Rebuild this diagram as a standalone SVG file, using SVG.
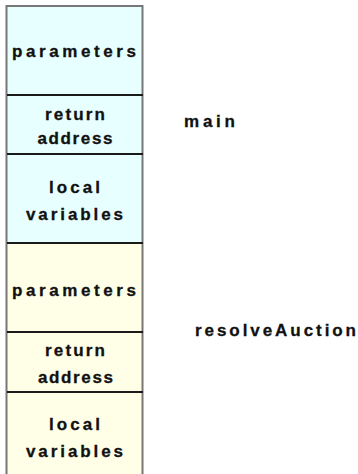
<svg xmlns="http://www.w3.org/2000/svg" width="358" height="474" viewBox="0 0 358 474">
<style>
.c{fill:#E8FFFF}
.y{fill:#FFFFE8}
.div{stroke:#1a1a1a;stroke-width:2}
.edge{stroke:#777;stroke-width:2;fill:none}
text{font-family:"Liberation Sans",Arial,sans-serif;font-weight:bold;font-size:17px;fill:#111;text-anchor:middle;stroke:#111;stroke-width:0.3}
</style>
<rect width="358" height="474" fill="#fff"/>
<g id="main-parameters">
<rect class="c" x="7" y="6.5" width="136" height="88.5"/>
<text x="74" y="57" textLength="124" lengthAdjust="spacing">parameters</text>
</g>
<g id="main-return-address">
<rect class="c" x="7" y="95" width="136" height="59"/>
<text x="75" y="120" textLength="60" lengthAdjust="spacing">return</text>
<text x="75" y="144" textLength="75" lengthAdjust="spacing">address</text>
</g>
<g id="main-local-variables">
<rect class="c" x="7" y="154" width="136" height="89"/>
<text x="74.5" y="193" textLength="51" lengthAdjust="spacing">local</text>
<text x="74.5" y="219.5" textLength="97" lengthAdjust="spacing">variables</text>
</g>
<g id="ra-parameters">
<rect class="y" x="7" y="243" width="136" height="89"/>
<text x="74" y="296" textLength="124" lengthAdjust="spacing">parameters</text>
</g>
<g id="ra-return-address">
<rect class="y" x="7" y="332" width="136" height="60"/>
<text x="75" y="356" textLength="60" lengthAdjust="spacing">return</text>
<text x="75.5" y="383" textLength="75" lengthAdjust="spacing">address</text>
</g>
<g id="ra-local-variables">
<rect class="y" x="7" y="392" width="136" height="82"/>
<text x="74.5" y="429.5" textLength="51" lengthAdjust="spacing">local</text>
<text x="74.5" y="457" textLength="97" lengthAdjust="spacing">variables</text>
</g>
<g id="frame">
<path class="edge" d="M6.5 474 V6 H142.5 V474"/>
<line class="div" x1="7" y1="95" x2="143" y2="95"/>
<line class="div" x1="7" y1="154" x2="143" y2="154"/>
<line class="div" x1="7" y1="243" x2="143" y2="243"/>
<line class="div" x1="7" y1="332" x2="143" y2="332"/>
<line class="div" x1="7" y1="392" x2="143" y2="392"/>
</g>
<g id="label-main">
<text x="209.5" y="127" textLength="51" lengthAdjust="spacing">main</text>
</g>
<g id="label-resolveAuction">
<text x="275.5" y="335.5" textLength="161" lengthAdjust="spacing">resolveAuction</text>
</g>
</svg>
